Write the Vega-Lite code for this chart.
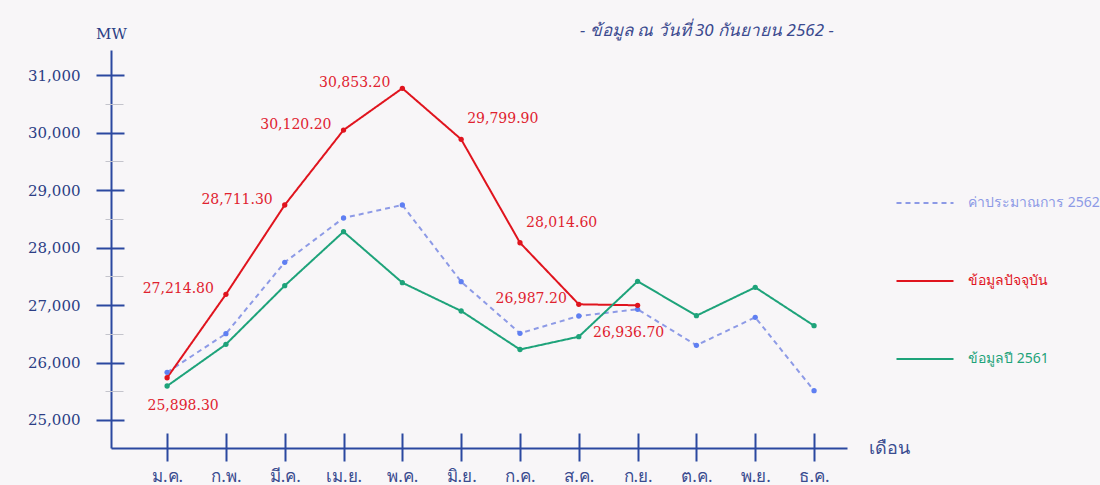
{
  "$schema": "https://vega.github.io/schema/vega-lite/v6.json",
  "width": 736,
  "height": 398,
  "autosize": {"type": "none"},
  "padding": {"left": 111, "top": 50, "right": 253, "bottom": 37},
  "background": "#f8f6f8",
  "config": {"view": {"stroke": null}},
  "title": {
    "text": "- ข้อมูล ณ วันที่ 30 กันยายน 2562 -",
    "anchor": "start",
    "frame": "group",
    "dx": 469,
    "dy": 26,
    "offset": 12,
    "fontSize": 17,
    "fontStyle": "italic",
    "fontWeight": "normal",
    "font": "Noto Sans",
    "color": "#3b4a8f"
  },
  "data": {
    "values": [
      {"month": "ม.ค.", "series": "ค่าประมาณการ 2562", "mw": 25830},
      {"month": "ก.พ.", "series": "ค่าประมาณการ 2562", "mw": 26501},
      {"month": "มี.ค.", "series": "ค่าประมาณการ 2562", "mw": 27743},
      {"month": "เม.ย.", "series": "ค่าประมาณการ 2562", "mw": 28513},
      {"month": "พ.ค.", "series": "ค่าประมาณการ 2562", "mw": 28739},
      {"month": "มิ.ย.", "series": "ค่าประมาณการ 2562", "mw": 27405},
      {"month": "ก.ค.", "series": "ค่าประมาณการ 2562", "mw": 26508},
      {"month": "ส.ค.", "series": "ค่าประมาณการ 2562", "mw": 26809},
      {"month": "ก.ย.", "series": "ค่าประมาณการ 2562", "mw": 26925},
      {"month": "ต.ค.", "series": "ค่าประมาณการ 2562", "mw": 26299},
      {"month": "พ.ย.", "series": "ค่าประมาณการ 2562", "mw": 26786},
      {"month": "ธ.ค.", "series": "ค่าประมาณการ 2562", "mw": 25510},
      {"month": "ม.ค.", "series": "ข้อมูลปัจจุบัน", "mw": 25735, "label": "25,898.30"},
      {"month": "ก.พ.", "series": "ข้อมูลปัจจุบัน", "mw": 27186, "label": "27,214.80"},
      {"month": "มี.ค.", "series": "ข้อมูลปัจจุบัน", "mw": 28739, "label": "28,711.30"},
      {"month": "เม.ย.", "series": "ข้อมูลปัจจุบัน", "mw": 30043, "label": "30,120.20"},
      {"month": "พ.ค.", "series": "ข้อมูลปัจจุบัน", "mw": 30769, "label": "30,853.20"},
      {"month": "มิ.ย.", "series": "ข้อมูลปัจจุบัน", "mw": 29882, "label": "29,799.90"},
      {"month": "ก.ค.", "series": "ข้อมูลปัจจุบัน", "mw": 28083, "label": "28,014.60"},
      {"month": "ส.ค.", "series": "ข้อมูลปัจจุบัน", "mw": 27012, "label": "26,987.20"},
      {"month": "ก.ย.", "series": "ข้อมูลปัจจุบัน", "mw": 26995, "label": "26,936.70"},
      {"month": "ม.ค.", "series": "ข้อมูลปี 2561", "mw": 25591},
      {"month": "ก.พ.", "series": "ข้อมูลปี 2561", "mw": 26316},
      {"month": "มี.ค.", "series": "ข้อมูลปี 2561", "mw": 27336},
      {"month": "เม.ย.", "series": "ข้อมูลปี 2561", "mw": 28275},
      {"month": "พ.ค.", "series": "ข้อมูลปี 2561", "mw": 27388},
      {"month": "มิ.ย.", "series": "ข้อมูลปี 2561", "mw": 26896},
      {"month": "ก.ค.", "series": "ข้อมูลปี 2561", "mw": 26226},
      {"month": "ส.ค.", "series": "ข้อมูลปี 2561", "mw": 26449},
      {"month": "ก.ย.", "series": "ข้อมูลปี 2561", "mw": 27412},
      {"month": "ต.ค.", "series": "ข้อมูลปี 2561", "mw": 26814},
      {"month": "พ.ย.", "series": "ข้อมูลปี 2561", "mw": 27307},
      {"month": "ธ.ค.", "series": "ข้อมูลปี 2561", "mw": 26640}
    ]
  },
  "resolve": {"axis": {"x": "independent", "y": "independent"}},
  "layer": [
    {
      "mark": {"type": "line", "strokeWidth": 2},
      "encoding": {
        "x": {
          "field": "month", "type": "ordinal",
          "sort": ["ม.ค.", "ก.พ.", "มี.ค.", "เม.ย.", "พ.ค.", "มิ.ย.", "ก.ค.", "ส.ค.", "ก.ย.", "ต.ค.", "พ.ย.", "ธ.ค."],
          "scale": {"type": "point", "padding": 0.757, "align": 0.63},
          "axis": {
            "orient": "bottom", "domain": true, "domainColor": "#2b48a0", "domainWidth": 2,
            "ticks": false, "tickSize": 0, "labelAngle": 0, "labelPadding": 20,
            "labelFontSize": 17, "labelFont": "Noto Sans", "labelColor": "#3a4c90",
            "labelBaseline": "top", "grid": false,
            "title": "เดือน", "titleFont": "Noto Sans", "titleFontSize": 18, "titleFontWeight": "normal",
            "titleColor": "#3a4c90", "titleX": 757, "titleY": 0, "titleAlign": "left", "titleBaseline": "middle", "titleAnchor": null
          }
        },
        "y": {
          "field": "mw", "type": "quantitative",
          "scale": {"domain": [24513, 31435], "nice": false, "zero": false},
          "axis": {
            "orient": "left", "values": [25000, 26000, 27000, 28000, 29000, 30000, 31000],
            "domain": true, "domainColor": "#2b48a0", "domainWidth": 2,
            "ticks": false, "tickSize": 0, "labelPadding": 31, "grid": false,
            "labelFont": "DejaVu Serif", "labelFontSize": 15, "labelColor": "#2c3e85",
            "format": ",d",
            "title": "MW", "titleAngle": 0, "titleX": 0, "titleY": -17, "titleAlign": "center",
            "titleBaseline": "middle", "titleFont": "DejaVu Serif", "titleFontSize": 15,
            "titleFontWeight": "normal", "titleColor": "#2c3e85"
          }
        },
        "color": {
          "field": "series", "type": "nominal",
          "scale": {"domain": ["ค่าประมาณการ 2562", "ข้อมูลปัจจุบัน", "ข้อมูลปี 2561"], "range": ["#8d9ae6", "#e0141e", "#1ea37a"]},
          "legend": {
            "orient": "none", "legendX": 784, "legendY": 123, "direction": "vertical",
            "title": null, "symbolType": "stroke", "symbolSize": 3250, "symbolStrokeWidth": 2,
            "labelOffset": 13, "rowPadding": 41, "labelFont": "Noto Sans", "labelFontSize": 14,
            "labelLimit": 300,
            "encode": {"labels": {"update": {"fill": {"signal": "scale('color', datum.value)"}}}}
          }
        },
        "strokeDash": {
          "field": "series", "type": "nominal",
          "scale": {"domain": ["ค่าประมาณการ 2562", "ข้อมูลปัจจุบัน", "ข้อมูลปี 2561"], "range": [[5, 4], [1, 0], [1, 0]]},
          "legend": {
            "orient": "none", "legendX": 784, "legendY": 123, "direction": "vertical",
            "title": null, "symbolType": "stroke", "symbolSize": 3250, "symbolStrokeWidth": 2,
            "labelOffset": 13, "rowPadding": 41, "labelFont": "Noto Sans", "labelFontSize": 14,
            "labelLimit": 300,
            "encode": {"labels": {"update": {"fill": {"signal": "scale('color', datum.value)"}}}}
          }
        }
      }
    },
    {
      "mark": {"type": "point", "filled": true, "size": 28, "opacity": 1},
      "encoding": {
        "x": {
          "field": "month", "type": "ordinal",
          "sort": ["ม.ค.", "ก.พ.", "มี.ค.", "เม.ย.", "พ.ค.", "มิ.ย.", "ก.ค.", "ส.ค.", "ก.ย.", "ต.ค.", "พ.ย.", "ธ.ค."],
          "axis": {
            "orient": "bottom", "domain": false, "labels": false, "grid": false, "title": null,
            "ticks": true, "tickSize": 28, "offset": -15, "tickColor": "#2b48a0", "tickWidth": 2
          }
        },
        "y": {
          "field": "mw", "type": "quantitative",
          "axis": {
            "orient": "left", "values": [25000, 26000, 27000, 28000, 29000, 30000, 31000],
            "domain": false, "labels": false, "grid": false, "title": null,
            "ticks": true, "tickSize": 28, "offset": -13, "tickColor": "#2b48a0", "tickWidth": 2
          }
        },
        "fill": {
          "field": "series", "type": "nominal",
          "scale": {"domain": ["ค่าประมาณการ 2562", "ข้อมูลปัจจุบัน", "ข้อมูลปี 2561"], "range": ["#5f7ff2", "#e0141e", "#1ea37a"]},
          "legend": null
        }
      }
    },
    {
      "transform": [{"filter": {"field": "month", "oneOf": ["ก.พ.", "มี.ค.", "เม.ย.", "พ.ค.", "ส.ค."]}}, {"filter": "datum.label != null"}],
      "mark": {"type": "text", "align": "right", "baseline": "middle", "dx": -12, "dy": -5, "font": "DejaVu Serif", "fontSize": 14, "color": "#e0222f"},
      "encoding": {
        "x": {
          "field": "month", "type": "ordinal",
          "sort": ["ม.ค.", "ก.พ.", "มี.ค.", "เม.ย.", "พ.ค.", "มิ.ย.", "ก.ค.", "ส.ค.", "ก.ย.", "ต.ค.", "พ.ย.", "ธ.ค."],
          "axis": null
        },
        "y": {
          "field": "mw", "type": "quantitative",
          "axis": {
            "orient": "left", "values": [25500, 26500, 27500, 28500, 29500, 30500],
            "domain": false, "labels": false, "grid": false, "title": null,
            "ticks": true, "tickSize": 18, "offset": -12, "tickColor": "#c4c4cc", "tickWidth": 1
          }
        },
        "text": {"field": "label"}
      }
    },
    {
      "transform": [{"filter": {"field": "month", "oneOf": ["มิ.ย.", "ก.ค."]}}, {"filter": "datum.label != null"}],
      "mark": {"type": "text", "align": "left", "baseline": "middle", "dx": 6, "dy": -20, "font": "DejaVu Serif", "fontSize": 14, "color": "#e0222f"},
      "encoding": {
        "x": {"field": "month", "type": "ordinal", "sort": ["ม.ค.", "ก.พ.", "มี.ค.", "เม.ย.", "พ.ค.", "มิ.ย.", "ก.ค.", "ส.ค.", "ก.ย.", "ต.ค.", "พ.ย.", "ธ.ค."], "axis": null},
        "y": {"field": "mw", "type": "quantitative", "axis": null},
        "text": {"field": "label"}
      }
    },
    {
      "transform": [{"filter": {"field": "month", "equal": "ม.ค."}}, {"filter": "datum.label != null"}],
      "mark": {"type": "text", "align": "center", "baseline": "middle", "dx": 16, "dy": 28, "font": "DejaVu Serif", "fontSize": 14, "color": "#e0222f"},
      "encoding": {
        "x": {"field": "month", "type": "ordinal", "sort": ["ม.ค.", "ก.พ.", "มี.ค.", "เม.ย.", "พ.ค.", "มิ.ย.", "ก.ค.", "ส.ค.", "ก.ย.", "ต.ค.", "พ.ย.", "ธ.ค."], "axis": null},
        "y": {"field": "mw", "type": "quantitative", "axis": null},
        "text": {"field": "label"}
      }
    },
    {
      "transform": [{"filter": {"field": "month", "equal": "ก.ย."}}, {"filter": "datum.label != null"}],
      "mark": {"type": "text", "align": "center", "baseline": "middle", "dx": -9, "dy": 28, "font": "DejaVu Serif", "fontSize": 14, "color": "#e0222f"},
      "encoding": {
        "x": {"field": "month", "type": "ordinal", "sort": ["ม.ค.", "ก.พ.", "มี.ค.", "เม.ย.", "พ.ค.", "มิ.ย.", "ก.ค.", "ส.ค.", "ก.ย.", "ต.ค.", "พ.ย.", "ธ.ค."], "axis": null},
        "y": {"field": "mw", "type": "quantitative", "axis": null},
        "text": {"field": "label"}
      }
    }
  ]
}
